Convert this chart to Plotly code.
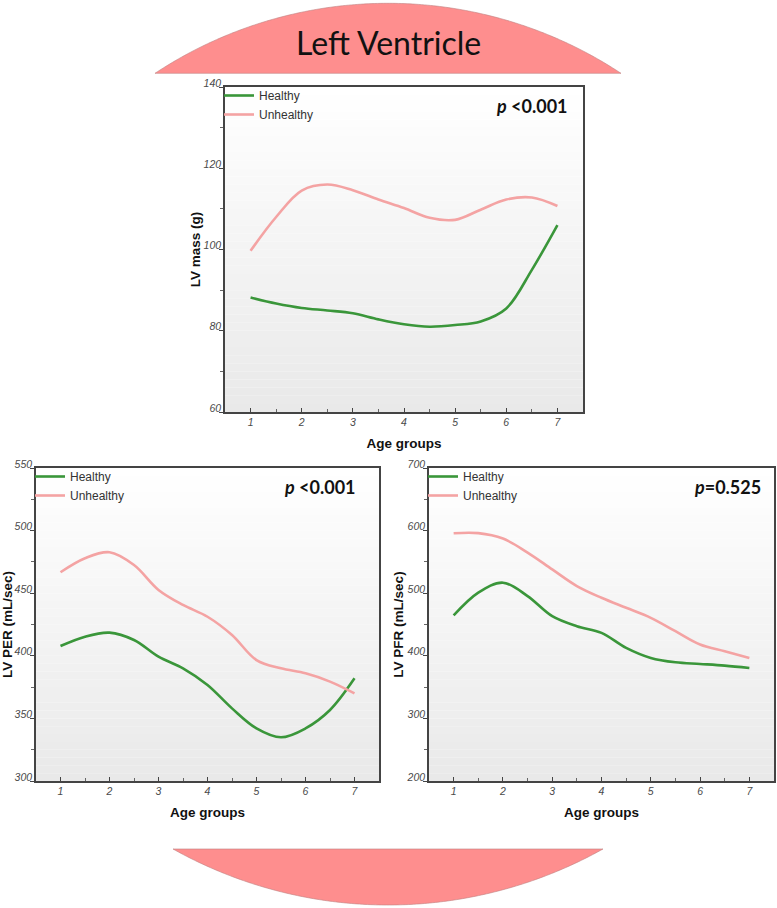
import numpy as np
import plotly.graph_objects as go

W, H = 777, 908

# ---------------- data ----------------
age_x = [1, 1.5, 2, 2.5, 3, 3.5, 4, 4.5, 5, 5.5, 6, 6.5, 7]
age_ticks = [1, 2, 3, 4, 5, 6, 7]

mass_healthy   = [88.2, 86.7, 85.6, 85.0, 84.3, 82.8, 81.6, 81.0, 81.4, 82.3, 85.5, 95.0, 106.0]
mass_unhealthy = [99.7, 108.0, 114.5, 116.0, 114.6, 112.3, 110.2, 107.8, 107.3, 109.8, 112.3, 112.8, 110.7]

per_healthy   = [407.8, 415.3, 418.5, 412.6, 399.3, 390.0, 376.7, 358.0, 342.0, 334.9, 342.0, 356.7, 382.0]
per_unhealthy = [466.7, 477.9, 482.7, 472.5, 452.6, 440.6, 431.2, 416.6, 396.6, 390.0, 386.0, 379.4, 370.0]

pfr_healthy   = [464.4, 500.8, 516.8, 495.4, 463.3, 447.3, 436.7, 412.7, 396.6, 389.6, 387.0, 384.3, 380.6]
pfr_unhealthy = [595.8, 596.0, 587.3, 564.9, 538.0, 511.4, 492.7, 476.7, 460.7, 439.3, 418.0, 407.2, 396.6]

series_names = ["Healthy", "Unhealthy"]
panel_titles = ["LV mass (g)", "LV PER (mL/sec)", "LV PFR (mL/sec)"]
p_texts = ["<b><i>p</i> &lt;0.001</b>", "<b><i>p</i> &lt;0.001</b>", "<b><i>p</i>=0.525</b>"]
x_title = "Age groups"
main_title = "Left Ventricle"

# ---------------- styles ----------------
GREEN = "#3a963a"
PINK = "#f4a3a3"
ARC = "#fe8e8e"

def px2x(p):
    return p / W

def px2y(p):
    return 1 - p / H

# subplot domains (pixels -> paper)
doms = {
    "": ((225, 583), (87, 412)),
    "2": ((36, 379), (468, 781)),
    "3": ((429, 774), (468, 781)),
}
p_right = {"": 13, "2": 21, "3": 11}
yranges = {"": (60, 140, 20), "2": (300, 550, 50), "3": (200, 700, 100)}

fig = go.Figure()

datasets = {
    "": (mass_healthy, mass_unhealthy),
    "2": (per_healthy, per_unhealthy),
    "3": (pfr_healthy, pfr_unhealthy),
}
for k, (h, u) in datasets.items():
    leg = "legend" + k
    for name, vals, col in zip(series_names, (h, u), (GREEN, PINK)):
        fig.add_trace(go.Scatter(
            x=age_x, y=vals, mode="lines", name=name,
            line=dict(color=col, width=2.6, shape="spline", smoothing=1.0),
            xaxis="x" + k, yaxis="y" + k, legend=leg, showlegend=True,
        ))

tickfont = dict(family="Arial", size=10.5, color="#4a4a4a", style="italic")
titlefont = dict(family="Arial", size=13.5, color="#111111")

layout = dict(
    width=W, height=H, margin=dict(l=0, r=0, t=0, b=0, autoexpand=False),
    paper_bgcolor="white", plot_bgcolor="rgba(0,0,0,0)",
    showlegend=True,
)
shapes = []
annotations = []

for idx, (k, ((x0, x1), (y0, y1))) in enumerate(doms.items()):
    lo, hi, step = yranges[k]
    layout["xaxis" + k] = dict(
        domain=[px2x(x0), px2x(x1)], range=[0.5, 7.5], anchor="y" + k,
        automargin=False,
        tickvals=age_ticks, ticks="inside", ticklen=4, tickcolor="#444",
        minor=dict(dtick=0.5, tick0=0.5, ticks="inside", ticklen=3, tickcolor="#666"),
        showgrid=False, zeroline=False, showline=True, linecolor="#444", linewidth=1.5,
        mirror=True, tickfont=tickfont,
        title=dict(text="<b>" + x_title + "</b>", font=titlefont, standoff=11),
    )
    layout["yaxis" + k] = dict(
        domain=[px2y(y1), px2y(y0)], range=[lo, hi], anchor="x" + k,
        automargin=False,
        dtick=step, tick0=lo, ticks="outside", ticklen=4, tickcolor="#444",
        minor=dict(dtick=step / 2, ticks="outside", ticklen=3, tickcolor="#666"),
        showgrid=False, zeroline=False, showline=True, linecolor="#444", linewidth=1.5,
        mirror=True, tickfont=tickfont, ticklabelshift=-4, ticklabelstandoff=-4,
        title=dict(text="<b>" + panel_titles[idx] + "</b>", font=titlefont, standoff=0),
    )
    # gradient background
    n = 40
    for i in range(n):
        t = (i + 0.5) / n  # 0 top -> 1 bottom
        c = int(round(255 - 22 * t))
        shapes.append(dict(
            type="rect", xref=("x" + k) + " domain", yref=("y" + k) + " domain",
            x0=0, x1=1, y0=1 - (i + 1) / n, y1=1 - i / n,
            fillcolor=f"rgb({c},{c},{c})", line=dict(width=0), layer="below",
        ))
    # legend
    layout["legend" + k] = dict(
        x=px2x(x0 - 6), y=px2y(y0 - 6), xanchor="left", yanchor="top",
        bgcolor="rgba(0,0,0,0)", font=dict(family="Arial", size=12, color="#333333"),
        tracegroupgap=0, itemwidth=30,
    )
    # p value
    annotations.append(dict(
        x=px2x(x1 - p_right[k]), y=px2y(y0 + 19), xref="paper", yref="paper",
        xanchor="right", yanchor="middle", showarrow=False,
        text=p_texts[idx], font=dict(family="Lato", size=18, color="#111111"),
    ))

def arc_path(cx, cy, r, ychord, top=True):
    half = np.sqrt(r ** 2 - (ychord - cy) ** 2)
    xs = np.linspace(cx - half, cx + half, 160)
    if top:
        ys = cy - np.sqrt(np.maximum(r ** 2 - (xs - cx) ** 2, 0))
    else:
        ys = cy + np.sqrt(np.maximum(r ** 2 - (xs - cx) ** 2, 0))
    d = "M " + " L ".join(f"{px2x(a):.5f},{px2y(b):.5f}" for a, b in zip(xs, ys)) + " Z"
    return d

shapes.append(dict(type="path", xref="paper", yref="paper",
                   path=arc_path(388, 426.1, 422.8, 73.3, top=True),
                   fillcolor=ARC, line=dict(width=0.6, color="#c08080"), layer="below"))
shapes.append(dict(type="path", xref="paper", yref="paper",
                   path=arc_path(388, 464.3, 440.7, 849, top=False),
                   fillcolor=ARC, line=dict(width=0.6, color="#c08080"), layer="below"))

annotations.append(dict(
    x=px2x(388), y=px2y(42), xref="paper", yref="paper", showarrow=False,
    xanchor="center", yanchor="middle", text=main_title,
    font=dict(family="Lato", size=32, color="#111111"),
))

layout["shapes"] = shapes
layout["annotations"] = annotations
fig.update_layout(**layout)
fig.write_html("out.html")
